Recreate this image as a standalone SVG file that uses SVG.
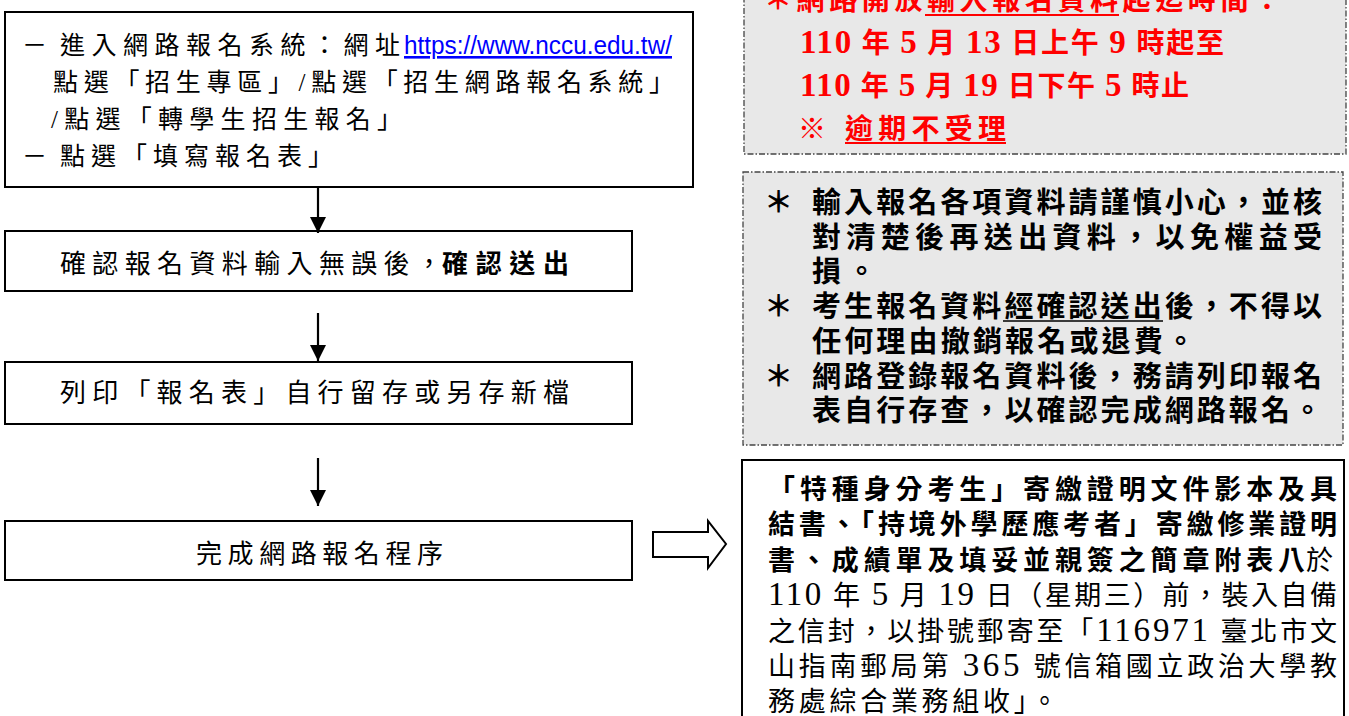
<svg xmlns="http://www.w3.org/2000/svg" width="1349" height="716" viewBox="0 0 1349 716">
<style>
.t{font-family:"Liberation Serif","Noto Sans CJK TC",serif;fill:#000}
.b{font-weight:bold}
.box{fill:#fff;stroke:#000;stroke-width:2}
.gray{fill:#e8e8e8;stroke:#444;stroke-width:1.3;stroke-dasharray:6 2 1.5 2}
.red{fill:#ff0000;font-weight:bold}
.d{font-size:33px}
.conn{stroke:#000;stroke-width:2.2;fill:none}
</style>
<defs>
<marker id="ah" markerUnits="userSpaceOnUse" markerWidth="18" markerHeight="16" refX="16" refY="8" orient="auto">
<path d="M0,0 L16,8 L0,16 Z" fill="#000"/>
</marker>
</defs>
<rect width="1349" height="716" fill="#fff"/>

<g id="node-start">
<rect class="box" x="5" y="12" width="688" height="175"/>
<text class="t" x="22" y="54" font-size="25">－</text>
<text class="t" x="60" y="54" font-size="25" textLength="340" lengthAdjust="spacing">進入網路報名系統：網址</text>
<text x="404" y="54" font-size="26" font-family="Liberation Sans, sans-serif" fill="#0000ff" textLength="268" lengthAdjust="spacingAndGlyphs" text-decoration="underline">https://www.nccu.edu.tw/</text>
<text class="t" x="53" y="91" font-size="25" textLength="621" lengthAdjust="spacing">點選「招生專區」/點選「招生網路報名系統」</text>
<text class="t" x="51" y="128" font-size="25" textLength="351" lengthAdjust="spacing">/點選「轉學生招生報名」</text>
<text class="t" x="22" y="165" font-size="25">－</text>
<text class="t" x="60" y="165" font-size="25" textLength="273" lengthAdjust="spacing">點選「填寫報名表」</text>
</g>

<g id="node-confirm">
<rect class="box" x="5" y="231" width="627" height="60"/>
<text class="t" x="60" y="273" font-size="26" textLength="382" lengthAdjust="spacing">確認報名資料輸入無誤後，</text>
<text class="t b" x="442" y="273" font-size="26" textLength="127" lengthAdjust="spacing">確認送出</text>
</g>

<g id="node-print">
<rect class="box" x="5" y="362" width="627" height="62"/>
<text class="t" x="60" y="402" font-size="26" textLength="509" lengthAdjust="spacing">列印「報名表」自行留存或另存新檔</text>
</g>

<g id="node-finish">
<rect class="box" x="5" y="521" width="627" height="59"/>
<text class="t" x="196" y="563" font-size="26" textLength="247" lengthAdjust="spacing">完成網路報名程序</text>
</g>

<g id="node-period">
<rect class="gray" x="744" y="-20" width="602" height="174"/>
<text class="t red" x="764" y="10" font-size="28" textLength="517" lengthAdjust="spacing">＊網路開放輸入報名資料起迄時間：</text>
<line x1="925" y1="15" x2="1119" y2="15" stroke="#ff0000" stroke-width="2"/>
<text class="t red" x="800" y="53" font-size="28" textLength="424" lengthAdjust="spacing"><tspan class="d">110</tspan> 年 <tspan class="d">5</tspan> 月 <tspan class="d">13</tspan> 日上午 <tspan class="d">9</tspan> 時起至</text>
<text class="t red" x="800" y="96" font-size="28" textLength="389" lengthAdjust="spacing"><tspan class="d">110</tspan> 年 <tspan class="d">5</tspan> 月 <tspan class="d">19</tspan> 日下午 <tspan class="d">5</tspan> 時止</text>
<text class="t red" x="798" y="139" font-size="28">※</text>
<text class="t red" x="845" y="139" font-size="28" textLength="161" lengthAdjust="spacing">逾期不受理</text>
<line x1="845" y1="143" x2="1006" y2="143" stroke="#ff0000" stroke-width="2"/>
</g>

<g id="node-notes">
<rect class="gray" x="743" y="172" width="600" height="273"/>
<text class="t b" x="764" y="213" font-size="29">＊</text>
<text class="t b" x="812" y="213" font-size="29" textLength="510" lengthAdjust="spacing">輸入報名各項資料請謹慎小心，並核</text>
<text class="t b" x="812" y="248" font-size="29" textLength="510" lengthAdjust="spacing">對清楚後再送出資料，以免權益受</text>
<text class="t b" x="812" y="282" font-size="29" textLength="64" lengthAdjust="spacing">損。</text>
<text class="t b" x="764" y="317" font-size="29">＊</text>
<text class="t b" x="812" y="317" font-size="29" textLength="510" lengthAdjust="spacing">考生報名資料經確認送出後，不得以</text>
<line x1="1003" y1="321" x2="1163" y2="321" stroke="#000" stroke-width="1.5"/>
<text class="t b" x="812" y="352" font-size="29" textLength="383" lengthAdjust="spacing">任何理由撤銷報名或退費。</text>
<text class="t b" x="764" y="387" font-size="29">＊</text>
<text class="t b" x="812" y="387" font-size="29" textLength="510" lengthAdjust="spacing">網路登錄報名資料後，務請列印報名</text>
<text class="t b" x="812" y="421" font-size="29" textLength="510" lengthAdjust="spacing">表自行存查，以確認完成網路報名。</text>
</g>

<g id="node-mail">
<rect class="box" x="742" y="460" width="602" height="270"/>
<text class="t b" x="768" y="499" font-size="27" textLength="569" lengthAdjust="spacing">「特種身分考生」寄繳證明文件影本及具</text>
<text class="t b" x="768" y="534" font-size="27" textLength="569" lengthAdjust="spacing">結書、「持境外學歷應考者」寄繳修業證明</text>
<text class="t b" x="768" y="570" font-size="27" textLength="537" lengthAdjust="spacing">書、成績單及填妥並親簽之簡章附表八</text>
<text class="t" x="1306" y="570" font-size="27">於</text>
<text class="t" x="768" y="605" font-size="27" textLength="569" lengthAdjust="spacing"><tspan class="d">110</tspan> 年 <tspan class="d">5</tspan> 月 <tspan class="d">19</tspan> 日（星期三）前，裝入自備</text>
<text class="t" x="768" y="641" font-size="27" textLength="569" lengthAdjust="spacing">之信封，以掛號郵寄至「<tspan class="d">116971</tspan> 臺北市文</text>
<text class="t" x="768" y="676" font-size="27" textLength="569" lengthAdjust="spacing">山指南郵局第 <tspan class="d">365</tspan> 號信箱國立政治大學教</text>
<text class="t" x="768" y="711" font-size="27" textLength="290" lengthAdjust="spacing">務處綜合業務組收」。</text>
</g>

<g id="connectors">
<line class="conn" x1="318" y1="187" x2="318" y2="233" marker-end="url(#ah)"/>
<line class="conn" x1="318" y1="313" x2="318" y2="361" marker-end="url(#ah)"/>
<line class="conn" x1="318" y1="458" x2="318" y2="506" marker-end="url(#ah)"/>
<polygon points="653,532 708,532 708,521 726,544 708,568 708,557 653,557" fill="#fff" stroke="#000" stroke-width="2"/>
</g>
</svg>
